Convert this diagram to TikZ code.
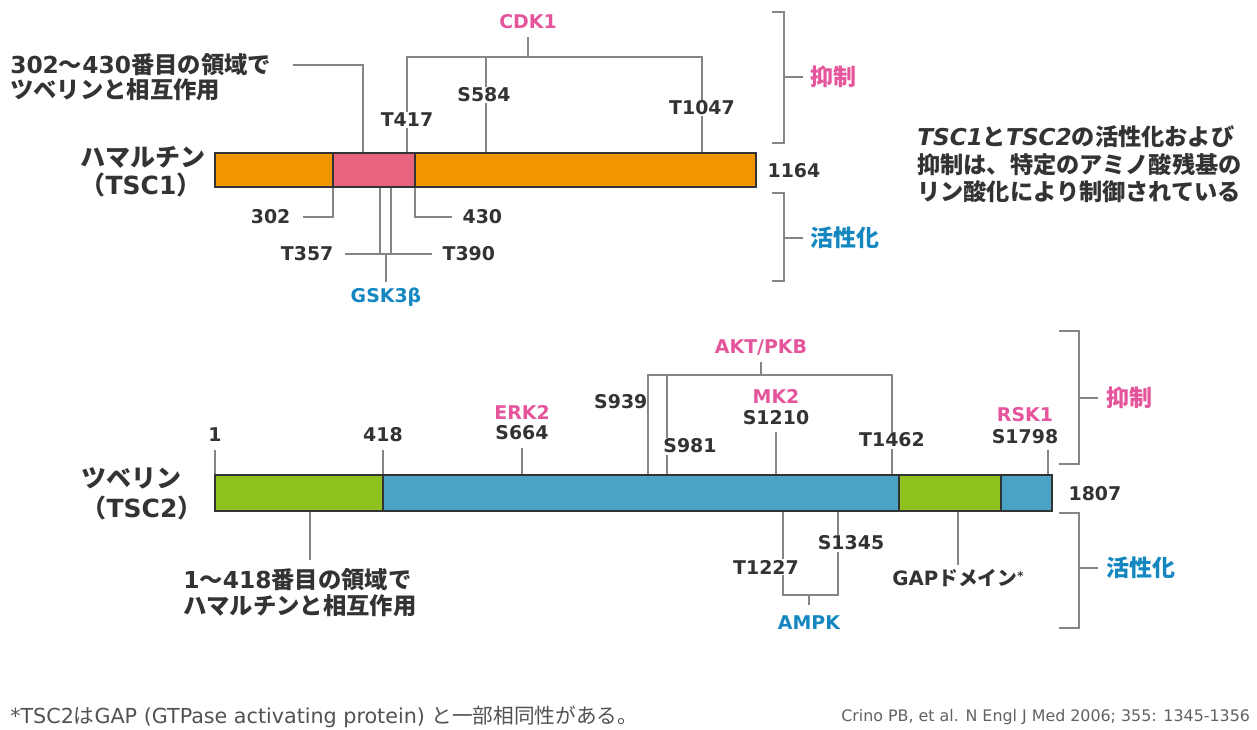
\documentclass[tikz,border=0pt]{standalone}
\usepackage{fontspec}
\setmainfont{DejaVu Sans}
\newfontfamily\jp{Noto Sans CJK JP}
\newcommand\J[1]{{\jp #1}}
\definecolor{orng}{HTML}{F29600}
\definecolor{pnkbar}{HTML}{E8637E}
\definecolor{bluebar}{HTML}{4AA2C4}
\definecolor{grnbar}{HTML}{8DC21F}
\definecolor{pnktxt}{HTML}{E5559C}
\definecolor{bluetxt}{HTML}{1487C1}
\definecolor{txt}{HTML}{333333}
\definecolor{ln}{HTML}{858585}
\definecolor{edge}{HTML}{333333}
\begin{document}
\begin{tikzpicture}[x=0.75pt,y=-0.75pt,
 conn/.style={draw=ln,line width=0.9pt},
 barseg/.style={draw=edge,line width=1.2pt},
 lab/.style={font=\fontsize{14.2}{16}\selectfont\bfseries, text=txt, inner sep=1pt},
 wlab/.style={lab, fill=white},
 pk/.style={lab, text=pnktxt},
 bl/.style={lab, text=bluetxt},
 protname/.style={font=\fontsize{18.75}{22}\selectfont\bfseries, text=txt, inner sep=0pt},
 jtxt/.style={font=\fontsize{17.5}{20}\selectfont\bfseries, text=txt, inner sep=0pt, anchor=west},
 jpk/.style={font=\fontsize{17.25}{20}\selectfont\bfseries\jp, text=pnktxt, inner sep=0pt, anchor=west},
 jbl/.style={font=\fontsize{17.25}{20}\selectfont\bfseries\jp, text=bluetxt, inner sep=0pt, anchor=west},
 desc/.style={font=\fontsize{17.4}{20}\selectfont\bfseries, text=txt, inner sep=0pt, anchor=west},
 gaplab/.style={font=\fontsize{14.8}{16}\selectfont\bfseries, text=txt, inner sep=1pt},
 foot/.style={font=\fontsize{15.5}{18}\selectfont, text=black!68, inner sep=0pt, anchor=west},
 cite/.style={font=\fontsize{11.9}{14}\selectfont, text=black!62, inner sep=0pt, anchor=west}
]
\useasboundingbox (0,0) rectangle (1257,729);
\clip (0,0) rectangle (1257,729);

% ===== TSC1 =====
\coordinate (a302t) at (363,153);
\coordinate (a302k) at (363,65);
\coordinate (a302e) at (293,65);
\coordinate (t417b) at (407,153); \coordinate (t417u) at (407,57);
\coordinate (s584b) at (486,153); \coordinate (s584u) at (486,57);
\coordinate (t1047b) at (702,153); \coordinate (t1047u) at (702,57);
\coordinate (cdkst) at (528,57); \coordinate (cdkend) at (528,37);
\coordinate (p302b) at (333,187); \coordinate (p302k) at (333,217); \coordinate (p302e) at (303,217);
\coordinate (p430b) at (415,187); \coordinate (p430k) at (415,217); \coordinate (p430e) at (452,217);
\coordinate (t357b) at (380,187); \coordinate (t357k) at (380,254);
\coordinate (t390b) at (391,187); \coordinate (t390k) at (391,254);
\coordinate (gl) at (345,254); \coordinate (gr) at (432,254);
\coordinate (gs) at (386,254); \coordinate (ge) at (386,282);

\draw[conn] (a302e) -- (a302k) -- (a302t);
\draw[conn] (t417b) -- (t417u) -- (t1047u) -- (t1047b);
\draw[conn] (s584u) -- (s584b);
\draw[conn] (cdkst) -- (cdkend);
\draw[conn] (p302b) -- (p302k) -- (p302e);
\draw[conn] (p430b) -- (p430k) -- (p430e);
\draw[conn] (t357b) -- (t357k);
\draw[conn] (t390b) -- (t390k);
\draw[conn] (gl) -- (gr);
\draw[conn] (gs) -- (ge);

\fill[orng] (215,153) rectangle (756,187);
\fill[pnkbar] (333,153) rectangle (415,187);
\draw[barseg] (215,153) rectangle (756,187);
\draw[barseg] (333,153) -- (333,187);
\draw[barseg] (415,153) -- (415,187);

\draw[conn] (772,12) -- (784,12) -- (784,143) -- (772,143);
\draw[conn] (784,77) -- (803,77);
\draw[conn] (772,193) -- (784,193) -- (784,281) -- (772,281);
\draw[conn] (784,238) -- (803,238);

\node[protname] (ham) at (143,157) {\J{ハマルチン}};
\node[protname] (ham2) at (141,185) {\J{（}TSC1\J{）}};
\node[jtxt] (int1a) at (10,65) {302\J{～}430\J{番目の領域で}};
\node[jtxt] (int1b) at (10,90) {\J{ツベリンと相互作用}};
\node[wlab] (t417) at (407,120) {T417};
\node[wlab] (s584) at (484,95) {S584};
\node[wlab] (t1047) at (702,108) {T1047};
\node[pk] (cdk1) at (528,22) {CDK1};
\node[lab, anchor=west] (n1164) at (766,171) {1164};
\node[lab, anchor=east] (n302) at (292,217) {302};
\node[lab, anchor=west] (n430) at (461,217) {430};
\node[lab, anchor=east] (t357) at (335,254) {T357};
\node[lab, anchor=west] (t390) at (441,254) {T390};
\node[bl] (gsk) at (386,297) {GSK3β};
\node[jpk] (inh1) at (810,77) {抑制};
\node[jbl] (act1) at (810,238) {活性化};

\node[desc] (d1) at (917,137) {{\itshape TSC1}\J{と}{\itshape TSC2}\J{の活性化および}};
\node[desc] (d2) at (917,165) {\J{抑制は、特定のアミノ酸残基の}};
\node[desc] (d3) at (917,192) {\J{リン酸化により制御されている}};

% ===== TSC2 =====
\coordinate (p1t) at (215,450); \coordinate (p1b) at (215,475);
\coordinate (p418t) at (383,450); \coordinate (p418b) at (383,475);
\coordinate (s664t) at (522,448); \coordinate (s664b) at (522,475);
\coordinate (s939b) at (648,475); \coordinate (s939u) at (648,375);
\coordinate (s981b) at (667,475); \coordinate (s981u) at (667,375);
\coordinate (t1462b) at (892,475); \coordinate (t1462u) at (892,375);
\coordinate (aktst) at (761,375); \coordinate (aktend) at (761,362);
\coordinate (s1210t) at (776,432); \coordinate (s1210b) at (776,475);
\coordinate (s1798t) at (1048,450); \coordinate (s1798b) at (1048,475);
\coordinate (hb) at (310,511); \coordinate (he) at (310,560);
\coordinate (t1227b) at (783,511); \coordinate (t1227k) at (783,595);
\coordinate (s1345b) at (838,511); \coordinate (s1345k) at (838,595);
\coordinate (ampks) at (809,595); \coordinate (ampke) at (809,605);
\coordinate (gapb) at (958,511); \coordinate (gape) at (958,565);

\draw[conn] (p1t) -- (p1b);
\draw[conn] (p418t) -- (p418b);
\draw[conn] (s664t) -- (s664b);
\draw[conn] (s939b) -- (s939u) -- (t1462u) -- (t1462b);
\draw[conn] (s981u) -- (s981b);
\draw[conn] (aktst) -- (aktend);
\draw[conn] (s1210t) -- (s1210b);
\draw[conn] (s1798t) -- (s1798b);
\draw[conn] (hb) -- (he);
\draw[conn] (t1227b) -- (t1227k) -- (s1345k) -- (s1345b);
\draw[conn] (ampks) -- (ampke);
\draw[conn] (gapb) -- (gape);

\fill[grnbar] (215,475) rectangle (383,511);
\fill[bluebar] (383,475) rectangle (1052,511);
\fill[grnbar] (899,475) rectangle (1001,511);
\draw[barseg] (215,475) rectangle (1052,511);
\draw[barseg] (383,475) -- (383,511);
\draw[barseg] (899,475) -- (899,511);
\draw[barseg] (1001,475) -- (1001,511);

\draw[conn] (1059,331) -- (1079,331) -- (1079,464) -- (1059,464);
\draw[conn] (1079,398) -- (1098,398);
\draw[conn] (1059,513) -- (1079,513) -- (1079,628) -- (1059,628);
\draw[conn] (1079,568) -- (1098,568);

\node[protname] (tub) at (131,478) {\J{ツベリン}};
\node[protname] (tub2) at (142,508) {\J{（}TSC2\J{）}};
\node[lab] (n1) at (215,435) {1};
\node[lab] (n418) at (383,435) {418};
\node[pk] (erk2) at (522,412) {ERK2};
\node[lab] (s664) at (522,433) {S664};
\node[lab, anchor=east] (s939) at (649,402) {S939};
\node[wlab] (s981) at (690,446) {S981};
\node[wlab] (t1462) at (892,440) {T1462};
\node[pk] (akt) at (761,347) {AKT/PKB};
\node[pk] (mk2) at (776,396) {MK2};
\node[lab] (s1210) at (776,418) {S1210};
\node[pk] (rsk1) at (1025,415) {RSK1};
\node[lab] (s1798) at (1025,437) {S1798};
\node[lab, anchor=west] (n1807) at (1067,494) {1807};
\node[jtxt] (int2a) at (183,580) {1\J{～}418\J{番目の領域で}};
\node[jtxt] (int2b) at (183,606) {\J{ハマルチンと相互作用}};
\node[wlab] (t1227) at (766,567) {T1227};
\node[wlab] (s1345) at (851,543) {S1345};
\node[bl] (ampk) at (809,623) {AMPK};
\node[gaplab] (gap) at (958,578) {GAP\J{ドメイン}{\fontsize{9}{9}\selectfont\raisebox{4pt}{*}}};
\node[jpk] (inh2) at (1106,398) {抑制};
\node[jbl] (act2) at (1106,568) {活性化};

\node[foot] (fn) at (10,717) {*TSC2\J{は}GAP (GTPase activating protein) \J{と一部相同性がある。}};
\node[cite] (ct) at (841,717) {Crino PB, et al. N Engl J Med 2006; 355: 1345-1356};
\end{tikzpicture}
\end{document}
